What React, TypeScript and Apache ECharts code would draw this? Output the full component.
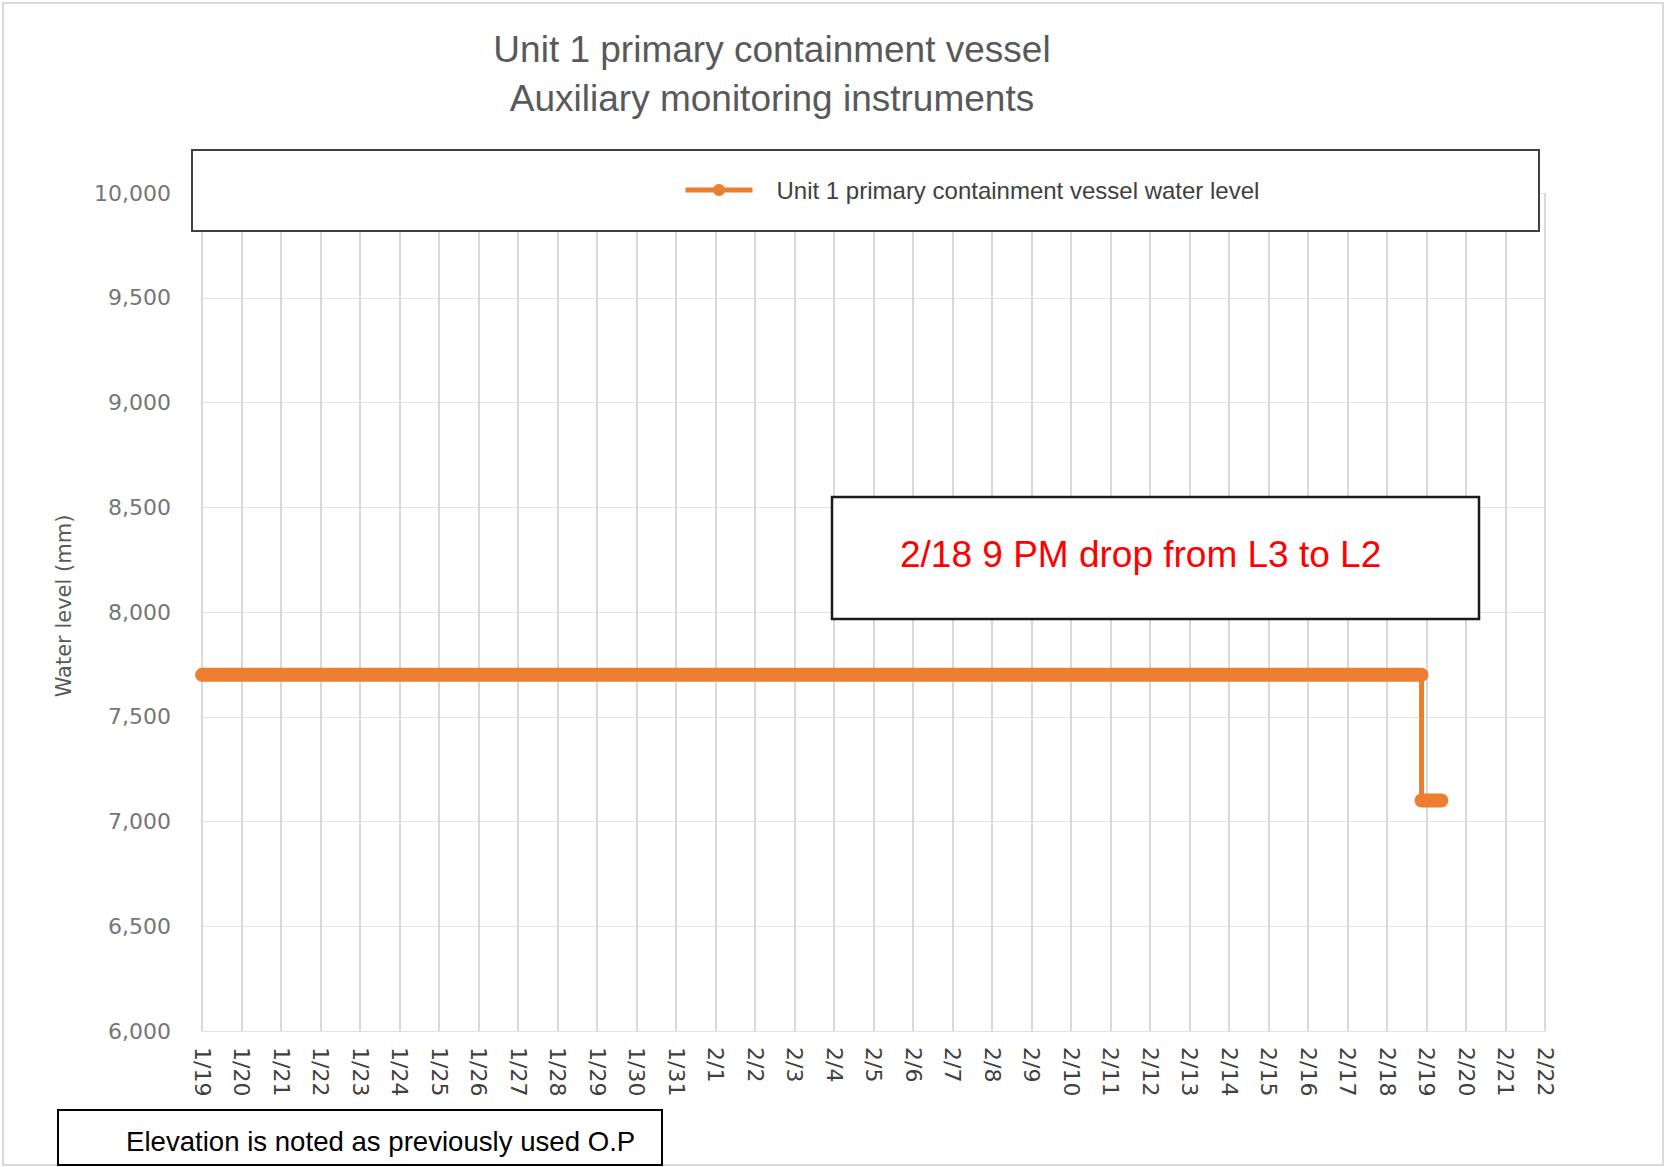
import React, { useEffect, useRef } from "react";
import * as echarts from "echarts";

const TITLE_LINES = ["Unit 1 primary containment vessel", "Auxiliary monitoring instruments"];
const SERIES_NAME = "Unit 1 primary containment vessel water level";
const Y_AXIS_NAME = "Water level (mm)";
const ANNOTATION = "2/18 9 PM drop from L3 to L2";
const NOTE = "Elevation is noted as previously used O.P";

// x-axis tick labels (one per day starting 1/19)
const DATE_LABELS = [
  "1/19", "1/20", "1/21", "1/22", "1/23", "1/24", "1/25", "1/26", "1/27", "1/28",
  "1/29", "1/30", "1/31", "2/1", "2/2", "2/3", "2/4", "2/5", "2/6", "2/7",
  "2/8", "2/9", "2/10", "2/11", "2/12", "2/13", "2/14", "2/15", "2/16", "2/17",
  "2/18", "2/19", "2/20", "2/21", "2/22",
];

// time in days since 1/19 00:00, water level in mm
const LEVEL_TIMES = [0, 30.875, 30.875, 31.375];
const LEVEL_VALUES = [7700, 7700, 7100, 7100];

const Y_MIN = 6000;
const Y_MAX = 10000;
const Y_STEP = 500;

const ORANGE = "#ED7D31";

export default function App() {
  const ref = useRef<HTMLDivElement>(null);

  useEffect(() => {
    if (!ref.current) return;
    const chart = echarts.init(ref.current, undefined, { renderer: "svg" });

    const points = LEVEL_TIMES.map((t, i) => [t, LEVEL_VALUES[i]]);
    const upper = points.slice(0, 2);
    const lower = points.slice(2, 4);

    const option = {
      animation: false,
      backgroundColor: "#ffffff",
      grid: { left: 202, right: 121, top: 193, bottom: 136, containLabel: false },
      xAxis: {
        type: "value",
        min: 0,
        max: DATE_LABELS.length - 1,
        interval: 1,
        axisLine: { show: false },
        axisTick: { show: false },
        splitLine: { show: true, lineStyle: { color: "#d9d9d9", width: 2 } },
        axisLabel: {
          rotate: -90,
          margin: 16,
          fontFamily: "DejaVu Sans",
          fontSize: 22,
          color: "#404040",
          formatter: (v: number) => DATE_LABELS[Math.round(v)] ?? "",
        },
      },
      yAxis: {
        type: "value",
        min: Y_MIN,
        max: Y_MAX,
        interval: Y_STEP,
        name: Y_AXIS_NAME,
        nameLocation: "middle",
        nameRotate: 90,
        nameGap: 128,
        nameTextStyle: {
          fontFamily: "DejaVu Sans",
          fontSize: 21,
          color: "#595959",
          padding: [0, 0, 0, 12],
        },
        axisLine: { show: false },
        axisTick: { show: false },
        splitLine: { show: true, lineStyle: { color: "#e3e3e3", width: 1 } },
        axisLabel: {
          margin: 31,
          fontFamily: "DejaVu Sans",
          fontSize: 22,
          color: "#767676",
          formatter: (v: number) => v.toLocaleString("en-US"),
        },
      },
      legend: {
        data: [SERIES_NAME],
        left: 683,
        top: 178,
        padding: 0,
        z: 100,
        itemWidth: 67,
        itemHeight: 15,
        lineStyle: { width: 5 },
        textStyle: {
          fontFamily: "Liberation Sans",
          fontSize: 24,
          color: "#404040",
          padding: [0, 0, 0, 19],
        },
      },
      graphic: [
        {
          type: "rect",
          z: -10,
          silent: true,
          shape: { x: 3, y: 3, width: 1660, height: 1162 },
          style: { fill: "none", stroke: "#d9d9d9", lineWidth: 2 },
        },
        {
          type: "text",
          z: 50,
          x: 772,
          y: 49,
          style: {
            text: TITLE_LINES[0],
            fontFamily: "Liberation Sans",
            fontSize: 37,
            fill: "#595959",
            textAlign: "center",
            textVerticalAlign: "middle",
          },
        },
        {
          type: "text",
          z: 50,
          x: 772,
          y: 98,
          style: {
            text: TITLE_LINES[1],
            fontFamily: "Liberation Sans",
            fontSize: 37,
            fill: "#595959",
            textAlign: "center",
            textVerticalAlign: "middle",
          },
        },
        {
          type: "rect",
          z: 50,
          shape: { x: 192, y: 150, width: 1347, height: 81 },
          style: { fill: "#ffffff", stroke: "#404040", lineWidth: 2 },
        },
        {
          type: "rect",
          z: 50,
          shape: { x: 832, y: 497, width: 647, height: 122 },
          style: { fill: "#ffffff", stroke: "#1a1a1a", lineWidth: 2.5 },
        },
        {
          type: "text",
          z: 51,
          x: 900,
          y: 554,
          style: {
            text: ANNOTATION,
            fontFamily: "Liberation Sans",
            fontSize: 37,
            fill: "#ff0000",
            textAlign: "left",
            textVerticalAlign: "middle",
          },
        },
        {
          type: "rect",
          z: 50,
          shape: { x: 58, y: 1110, width: 604, height: 55 },
          style: { fill: "#ffffff", stroke: "#000000", lineWidth: 2 },
        },
        {
          type: "text",
          z: 51,
          x: 126,
          y: 1141,
          style: {
            text: NOTE,
            fontFamily: "Liberation Sans",
            fontSize: 27.6,
            fill: "#000000",
            textAlign: "left",
            textVerticalAlign: "middle",
          },
        },
      ],
      series: [
        {
          name: SERIES_NAME,
          type: "line",
          data: points,
          symbol: "circle",
          showSymbol: false,
          symbolSize: 12,
          itemStyle: { color: ORANGE, borderWidth: 0 },
          lineStyle: { color: ORANGE, width: 5 },
          z: 3,
        },
        {
          name: "upper",
          type: "line",
          data: upper,
          symbol: "none",
          lineStyle: { color: ORANGE, width: 14, cap: "round" },
          z: 4,
        },
        {
          name: "lower",
          type: "line",
          data: lower,
          symbol: "none",
          lineStyle: { color: ORANGE, width: 14, cap: "round" },
          z: 4,
        },
      ],
    };

    chart.setOption(option as any);
    return () => chart.dispose();
  }, []);

  return (
    <div
      ref={ref}
      style={{ position: "fixed", left: 0, top: 0, width: 1666, height: 1167 }}
    />
  );
}
